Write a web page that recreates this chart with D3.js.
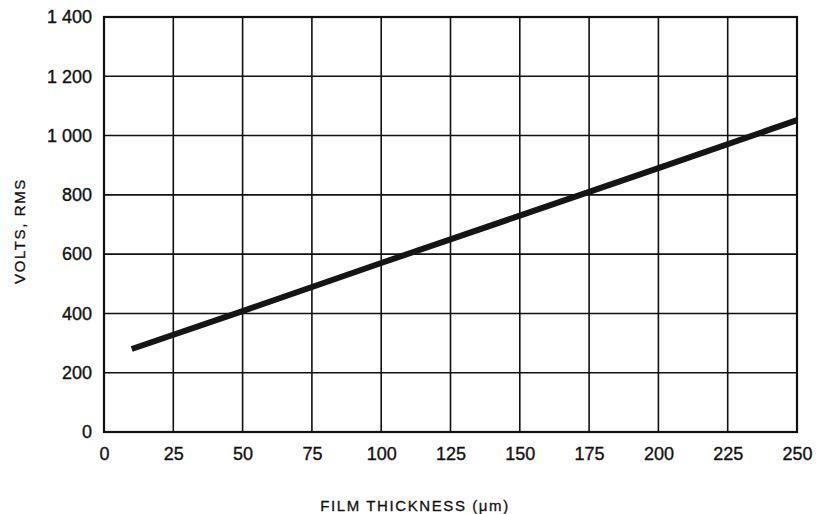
<!DOCTYPE html>
<html><head><meta charset="utf-8">
<script src="https://cdn.jsdelivr.net/npm/d3@7"></script>
<style>body{margin:0;background:#fff}svg{display:block}text{font-family:"Liberation Sans",Arial,sans-serif;fill:#111}</style>
</head><body>
<svg id="c" width="816" height="514"></svg>
<script>
const xTicks = [0,25,50,75,100,125,150,175,200,225,250];
const yTicks = [0,200,400,600,800,1000,1200,1400];
const yTickLabels = ["0","200","400","600","800","1 000","1 200","1 400"];
const thickness = [10,50,100,150,175,200,250];
const volts = [280,408,570,730,810,890,1052];
const xTitle = "FILM THICKNESS (\u03bcm)";
const yTitle = "VOLTS, RMS";

const svg = d3.select("#c");
const m = {l:104, r:797, t:17, b:432};
const x = d3.scaleLinear().domain([0,250]).range([m.l,m.r]);
const y = d3.scaleLinear().domain([0,1400]).range([m.b,m.t]);

const g = svg.append("g");
g.selectAll(".vg").data(xTicks).enter().append("line")
 .attr("x1",d=>x(d)).attr("x2",d=>x(d)).attr("y1",m.t).attr("y2",m.b)
 .attr("stroke","#111").attr("stroke-width",1.6);
g.selectAll(".hg").data(yTicks).enter().append("line")
 .attr("y1",d=>y(d)).attr("y2",d=>y(d)).attr("x1",m.l).attr("x2",m.r)
 .attr("stroke","#111").attr("stroke-width",1.6);
g.append("rect").attr("x",m.l).attr("y",m.t).attr("width",m.r-m.l).attr("height",m.b-m.t)
 .attr("fill","none").attr("stroke","#111").attr("stroke-width",2.2);

const xa = svg.append("g").attr("transform",`translate(0,${m.b})`)
 .call(d3.axisBottom(x).tickValues(xTicks).tickSize(0).tickPadding(15).tickFormat(d3.format("d")));
xa.select(".domain").remove();
xa.selectAll("text").style("font-size","18px").attr("fill","#111")
 .attr("stroke","#111").attr("stroke-width",0.35);

const ya = svg.append("g").attr("transform",`translate(${m.l},0)`)
 .call(d3.axisLeft(y).tickValues(yTicks).tickSize(0).tickPadding(12).tickFormat((d,i)=>yTickLabels[i]));
ya.select(".domain").remove();
ya.selectAll("text").style("font-size","18px").attr("fill","#111")
 .attr("stroke","#111").attr("stroke-width",0.35);

const line = d3.line().x((d,i)=>x(thickness[i])).y(d=>y(d));
svg.append("path").datum(volts).attr("d",line).attr("fill","none")
 .attr("stroke","#151515").attr("stroke-width",6).attr("stroke-linecap","butt");

svg.append("text").attr("x",415).attr("y",511).attr("text-anchor","middle")
 .style("font-size","15px").style("letter-spacing","1.6px")
 .attr("stroke","#111").attr("stroke-width",0.3).text(xTitle);
svg.append("text").attr("transform","translate(25,231) rotate(-90)").attr("text-anchor","middle")
 .style("font-size","15px").style("letter-spacing","1.6px")
 .attr("stroke","#111").attr("stroke-width",0.3).text(yTitle);
</script>
</body></html>
